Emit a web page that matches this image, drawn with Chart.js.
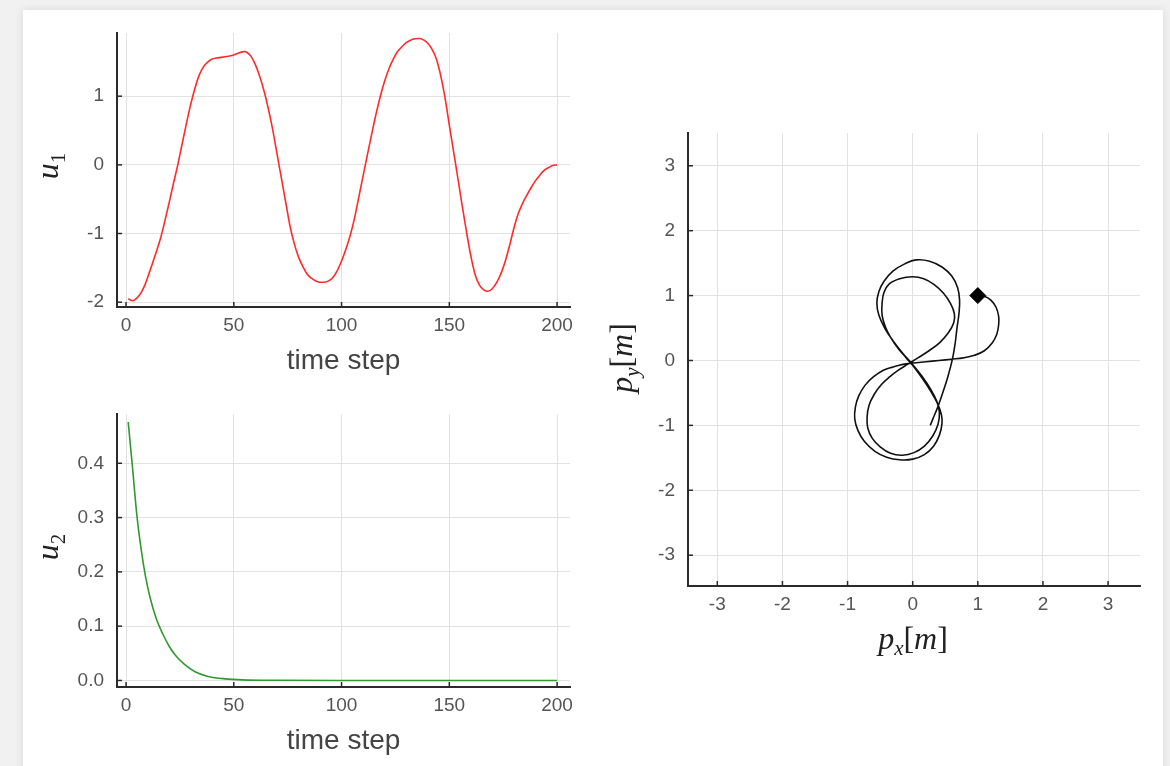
<!DOCTYPE html>
<html>
<head>
<meta charset="utf-8">
<script src="https://cdn.jsdelivr.net/npm/chart.js@4"></script>
<style>
  html, body { margin: 0; padding: 0; }
  body { width: 1170px; height: 766px; background: #f1f1f1; position: relative; overflow: hidden; }
  #panel { position: absolute; left: 23px; top: 10px; width: 1140px; height: 800px; background: #fff; box-shadow: 0 0 9px rgba(0,0,0,0.10); }
  canvas { position: absolute; }
</style>
</head>
<body>
<div id="panel"></div>
<canvas id="u1Chart" style="left:0;top:0" width="590" height="390"></canvas>
<canvas id="u2Chart" style="left:0;top:390px" width="590" height="376"></canvas>
<canvas id="pathChart" style="left:590px;top:100px" width="580" height="600"></canvas>
<script>
// u1 control input, every 2 steps
const u1Steps = [1, 3, 5, 7, 9, 10, 12, 14, 16, 18, 20, 22, 24, 26, 28, 30, 32, 34, 36, 38, 40, 42, 44, 46, 48, 50,
  52, 54, 55, 56, 58, 60, 62, 64, 66, 68, 70, 72, 74, 76, 78, 80, 82, 84, 86, 88, 90, 92, 94, 96, 98, 100,
  102, 104, 106, 108, 110, 112, 114, 116, 118, 120, 122, 124, 126, 128, 130, 132, 134, 136, 138, 140, 142, 144,
  146, 148, 150, 152, 154, 156, 158, 160, 162, 164, 166, 168, 170, 172, 174, 176, 178, 180, 182, 184, 186, 188,
  190, 192, 194, 196, 198, 200];
const u1Values = [-1.95, -1.98, -1.94, -1.86, -1.73, -1.64, -1.46, -1.27, -1.07, -0.82, -0.55, -0.27, 0.0, 0.30, 0.60, 0.88, 1.12, 1.31, 1.43, 1.50, 1.54, 1.555, 1.565, 1.575, 1.585, 1.60,
  1.625, 1.645, 1.65, 1.64, 1.58, 1.46, 1.29, 1.08, 0.82, 0.52, 0.17, -0.18, -0.53, -0.88, -1.14, -1.34, -1.48, -1.59, -1.65, -1.69, -1.71, -1.71, -1.69, -1.64, -1.54, -1.40,
  -1.23, -1.03, -0.78, -0.47, -0.16, 0.15, 0.45, 0.74, 1.0, 1.22, 1.40, 1.54, 1.65, 1.72, 1.78, 1.815, 1.835, 1.84, 1.82, 1.77, 1.68, 1.54,
  1.30, 0.98, 0.58, 0.19, -0.20, -0.60, -0.98, -1.33, -1.60, -1.75, -1.82, -1.84, -1.80, -1.71, -1.58, -1.40, -1.17, -0.92, -0.71, -0.56, -0.44, -0.33,
  -0.23, -0.15, -0.08, -0.04, -0.01, 0.0];

// u2 control input
const u2Steps = [1, 3, 5, 7, 9, 11, 14, 17, 20, 23, 27, 32, 38, 46, 54, 70, 100, 150, 200];
const u2Values = [0.476, 0.392, 0.305, 0.242, 0.192, 0.155, 0.114, 0.086, 0.063, 0.046, 0.030, 0.016, 0.0075, 0.003, 0.0012, 0.0003, 0, 0, 0];

// position trajectory [m]
const pathX = [1.00, 1.10, 1.20, 1.28, 1.32, 1.32, 1.29, 1.22, 1.10, 0.95, 0.78, 0.60, 0.40, 0.20, 0.00, -0.15,
  -0.30, -0.45, -0.60, -0.73, -0.83, -0.88, -0.89, -0.84, -0.74, -0.58, -0.40, -0.20, 0.00, 0.18, 0.32, 0.41, 0.45, 0.44, 0.38,
  0.28, 0.15, 0.02, -0.10, -0.22, -0.33, -0.42, -0.47, -0.47, -0.44, -0.36, -0.20, 0.00, 0.17, 0.33, 0.47, 0.58, 0.64, 0.63, 0.55, 0.42, 0.25, 0.08, -0.08, -0.22,
  -0.35, -0.48, -0.59, -0.67, -0.70, -0.69, -0.62, -0.50, -0.34, -0.16, 0.02, 0.18, 0.31, 0.39, 0.41, 0.37,
  0.28, 0.14, -0.02, -0.16, -0.30, -0.43, -0.52, -0.55, -0.52, -0.44, -0.30, -0.12, 0.05, 0.26, 0.45, 0.60, 0.69, 0.72, 0.71, 0.68, 0.65, 0.61, 0.54, 0.46, 0.38, 0.31, 0.27];
const pathY = [1.00, 0.99, 0.93, 0.82, 0.68, 0.55, 0.40, 0.27, 0.15, 0.08, 0.04, 0.02, 0.00, -0.02, -0.04, -0.06,
  -0.10, -0.15, -0.25, -0.38, -0.55, -0.72, -0.90, -1.08, -1.25, -1.40, -1.49, -1.53, -1.52, -1.45, -1.32, -1.15, -0.97, -0.83, -0.66,
  -0.48, -0.28, -0.10, 0.04, 0.18, 0.34, 0.52, 0.70, 0.88, 1.05, 1.18, 1.26, 1.29, 1.26, 1.17, 1.04, 0.88, 0.72, 0.58, 0.43, 0.28, 0.15, 0.04, -0.06, -0.15,
  -0.25, -0.37, -0.52, -0.69, -0.87, -1.04, -1.20, -1.33, -1.43, -1.46, -1.42, -1.32, -1.16, -0.98, -0.80, -0.63,
  -0.45, -0.24, -0.04, 0.12, 0.30, 0.50, 0.70, 0.88, 1.06, 1.22, 1.38, 1.49, 1.55, 1.53, 1.44, 1.30, 1.12, 0.93, 0.72, 0.50, 0.25, 0.02, -0.25, -0.50, -0.73, -0.90, -1.00];

const stepTicks = [0, 50, 100, 150, 200];

const TICK_FONT = { family: 'Liberation Sans', size: 19 };
const GRID = { color: '#e2e2e2', lineWidth: 1, drawTicks: false };
const BORDER = { display: true, color: '#2a2a2a', width: 2 };

function toPoints(xs, ys) {
  return xs.map((x, i) => ({ x: x, y: ys[i] }));
}

// small tick marks drawn on the inside of the axes, plus the math axis labels
const axisDecor = {
  id: 'axisDecor',
  afterDraw(chart, args, opts) {
    const ctx = chart.ctx;
    const area = chart.chartArea;
    const xs = chart.scales.x, ys = chart.scales.y;
    ctx.save();
    ctx.strokeStyle = '#2a2a2a';
    ctx.lineWidth = 1.5;
    xs.ticks.forEach(t => {
      const p = xs.getPixelForValue(t.value);
      ctx.beginPath(); ctx.moveTo(p, area.bottom); ctx.lineTo(p, area.bottom - 5); ctx.stroke();
    });
    ys.ticks.forEach(t => {
      const p = ys.getPixelForValue(t.value);
      ctx.beginPath(); ctx.moveTo(area.left, p); ctx.lineTo(area.left + 5, p); ctx.stroke();
    });
    ctx.restore();
    (opts.labels || []).forEach(l => drawMath(ctx, l));
  }
};

function drawMath(ctx, label) {
  ctx.save();
  ctx.fillStyle = '#222';
  ctx.textBaseline = 'alphabetic';
  let w = 0;
  label.parts.forEach(p => { ctx.font = p.font; w += ctx.measureText(p.t).width; });
  ctx.translate(label.x, label.y);
  if (label.rotate) ctx.rotate(-Math.PI / 2);
  let x = -w / 2;
  label.parts.forEach(p => {
    ctx.font = p.font;
    ctx.fillText(p.t, x, (p.dy || 0) + 8);
    x += ctx.measureText(p.t).width;
  });
  ctx.restore();
}

const MATH = 'italic 32px "Liberation Serif"';
const SUB = 'italic 21px "Liberation Serif"';
const SUBUP = '21px "Liberation Serif"';
const UP = '32px "Liberation Serif"';

function timeChart(id, steps, values, color, yMin, yMax, yStep, yFmt, topPad, axisH, titlePad, mathLabel) {
  return new Chart(document.getElementById(id), {
    type: 'line',
    data: {
      datasets: [{
        data: toPoints(steps, values),
        borderColor: color,
        borderWidth: 1.6,
        pointRadius: 0,
        cubicInterpolationMode: 'monotone',
        fill: false
      }]
    },
    options: {
      responsive: false,
      animation: false,
      layout: { padding: { top: topPad, right: 20, left: 0, bottom: 0 } },
      plugins: { legend: { display: false }, tooltip: { enabled: false }, axisDecor: { labels: [mathLabel] } },
      scales: {
        x: {
          type: 'linear', min: -4.2, max: 206,
          afterFit: s => { s.height = axisH; },
          afterBuildTicks: s => { s.ticks = stepTicks.map(v => ({ value: v })); },
          grid: GRID, border: BORDER,
          ticks: { font: TICK_FONT, color: '#555', padding: 7, maxRotation: 0 },
          title: { display: true, text: 'time step', color: '#444', font: { family: 'Liberation Sans', size: 28 }, padding: { top: 0, bottom: titlePad } }
        },
        y: {
          type: 'linear', min: yMin, max: yMax,
          afterFit: s => { s.width = 117; },
          grid: GRID, border: BORDER,
          ticks: { font: TICK_FONT, color: '#555', padding: 13, stepSize: yStep, includeBounds: false, callback: yFmt }
        }
      }
    },
    plugins: [axisDecor]
  });
}

timeChart('u1Chart', u1Steps, u1Values, '#ff2a2a', -2.07, 1.92, 1, v => String(v), 33, 83, 12,
  { x: 50, y: 166, rotate: true, parts: [{ t: 'u', font: MATH }, { t: '1', font: SUBUP, dy: 7 }] });

timeChart('u2Chart', u2Steps, u2Values, '#2f9a2f', -0.012, 0.49, 0.1, v => v.toFixed(1), 23, 79, 8,
  { x: 50, y: 157, rotate: true, parts: [{ t: 'u', font: MATH }, { t: '2', font: SUBUP, dy: 7 }] });

new Chart(document.getElementById('pathChart'), {
  type: 'scatter',
  data: {
    datasets: [
      {
        data: [{ x: pathX[0], y: pathY[0] }],
        pointStyle: 'rectRot', pointRadius: 8, backgroundColor: '#000', borderColor: '#000'
      },
      {
        data: toPoints(pathX, pathY),
        showLine: true, borderColor: '#111', borderWidth: 1.6, pointRadius: 0, tension: 0.4
      }
    ]
  },
  options: {
    responsive: false,
    animation: false,
    layout: { padding: { top: 33, right: 30, left: 0, bottom: 0 } },
    plugins: {
      legend: { display: false }, tooltip: { enabled: false },
      axisDecor: {
        labels: [
          { x: 34, y: 258, rotate: true, parts: [{ t: 'p', font: MATH }, { t: 'y', font: SUB, dy: 7 }, { t: '[', font: UP }, { t: 'm', font: MATH }, { t: ']', font: UP }] },
          { x: 323, y: 541, rotate: false, parts: [{ t: 'p', font: MATH }, { t: 'x', font: SUB, dy: 6 }, { t: '[', font: UP }, { t: 'm', font: MATH }, { t: ']', font: UP }] }
        ]
      }
    },
    scales: {
      x: {
        type: 'linear', min: -3.45, max: 3.49,
        afterFit: s => { s.height = 114; },
        grid: GRID, border: BORDER,
        ticks: { font: TICK_FONT, color: '#555', padding: 7, stepSize: 1, includeBounds: false, maxRotation: 0 }
      },
      y: {
        type: 'linear', min: -3.475, max: 3.505,
        afterFit: s => { s.width = 98; },
        grid: GRID, border: BORDER,
        ticks: { font: TICK_FONT, color: '#555', padding: 13, stepSize: 1, includeBounds: false }
      }
    }
  },
  plugins: [axisDecor]
});
</script>
</body>
</html>
